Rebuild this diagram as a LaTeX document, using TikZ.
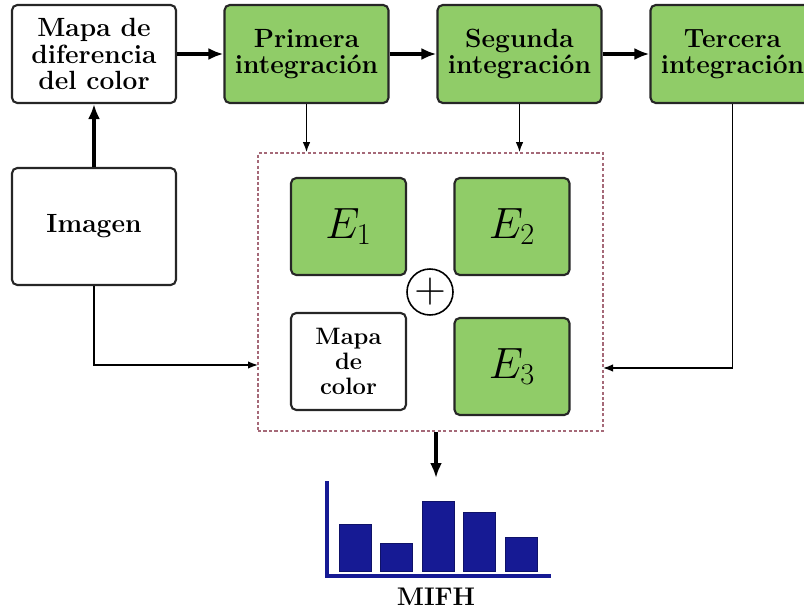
\documentclass[tikz,border=0pt]{standalone}
\usepackage{tikz}
\usetikzlibrary{arrows.meta}
\definecolor{boxgreen}{RGB}{144,204,104}
\definecolor{histblue}{RGB}{22,26,148}
\definecolor{grpred}{RGB}{165,105,120}

\tikzset{
  blk/.style={draw=black!85, line width=1.2pt, rounded corners=3pt, align=center,
    minimum width=3.28cm, minimum height=1.96cm, inner sep=1pt,
    font=\fontsize{15}{15}\selectfont\bfseries},
  gblk/.style={blk, fill=boxgreen},
  sblk/.style={blk, minimum width=2.3cm, minimum height=1.94cm},
  fatarrow/.style={line width=2.1pt, -{Latex[length=0.3cm,width=0.24cm]}},
  thinarrow/.style={line width=0.85pt, -{Latex[length=0.2cm,width=0.15cm]}}
}

\begin{document}
\begin{tikzpicture}
\useasboundingbox (0,0) rectangle (16.08,12.2);
% top row
\node[blk] (mdc) at (1.88,11.12) {Mapa de\\diferencia\\del color};
\node[gblk] (prim) at (6.13,11.12) {Primera\\integración};
\node[gblk] (seg) at (10.39,11.12) {Segunda\\integración};
\node[gblk] (ter) at (14.65,11.12) {Tercera\\integración};
\node[blk, minimum height=2.34cm] (img) at (1.88,7.67) {Imagen};
% sum block
\node[draw=grpred, line width=0.9pt, dash pattern=on 1.8pt off 1.3pt,
  minimum width=6.9cm, minimum height=5.56cm] (grp) at (8.61,6.36) {};
\node[sblk, fill=boxgreen, font=\fontsize{24}{24}\selectfont] (e1) at (6.97,7.67) {$E_1$};
\node[sblk, fill=boxgreen, font=\fontsize{24}{24}\selectfont] (e2) at (10.24,7.67) {$E_2$};
\node[sblk, font=\fontsize{13.5}{14}\selectfont\bfseries] (mc) at (6.97,4.97) {Mapa\\de\\color};
\node[sblk, fill=boxgreen, font=\fontsize{24}{24}\selectfont] (e3) at (10.24,4.87) {$E_3$};
\node[circle, draw, line width=0.9pt, fill=white, minimum size=0.92cm, inner sep=0pt,
  font=\fontsize{26}{26}\selectfont] (plus) at (8.6,6.36) {$+$};
\coordinate (inL) at (5.16,4.9);
\coordinate (inR) at (12.06,4.84);
\coordinate (hist) at (8.72,2.64);
% connectors
\draw[fatarrow] (mdc) -- (prim);
\draw[fatarrow] (prim) -- (seg);
\draw[fatarrow] (seg) -- (ter);
\draw[fatarrow] (img) -- (mdc);
\draw[thinarrow] (prim.south) -- (prim.south |- grp.north);
\draw[thinarrow] (seg.south) -- (seg.south |- grp.north);
\draw[thinarrow] (ter.south) |- (inR);
\draw[thinarrow] (img.south) |- (inL);
\draw[fatarrow] (hist |- grp.south) -- (hist);
% histogram
\draw[histblue, line width=2.8pt] (6.54,2.58) -- (6.54,0.68) -- (11.02,0.68);
\foreach \i/\top in {0/1.72,1/1.34,2/2.18,3/1.96,4/1.46}
  \fill[histblue, draw=histblue!70!black] ({6.78+0.83*\i},0.78) rectangle ++(0.64,{\top-0.78});
\node[font=\fontsize{14.5}{14}\selectfont\bfseries] (mifh) at (8.72,0.26) {MIFH};
\end{tikzpicture}
\end{document}
